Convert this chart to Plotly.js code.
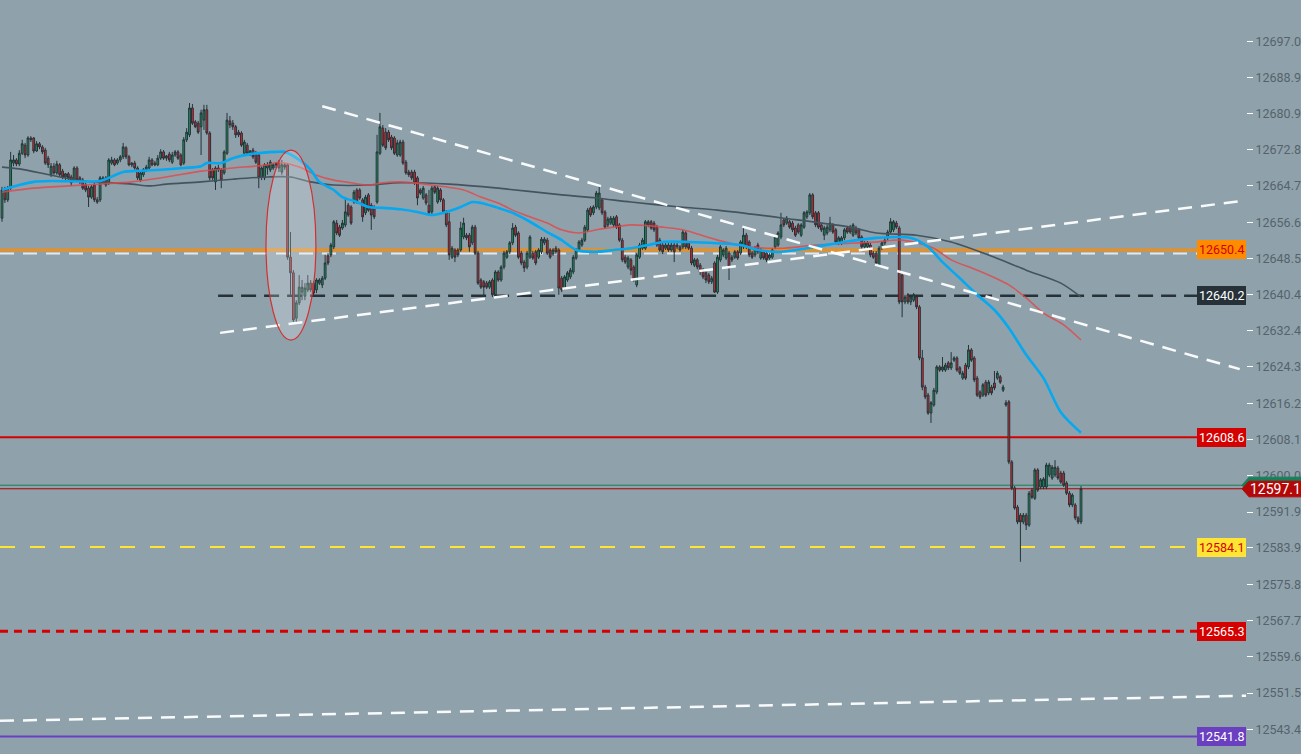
<!DOCTYPE html>
<html><head><meta charset="utf-8">
<script src="https://cdn.plot.ly/plotly-3.0.1.min.js"></script>
<style>html,body{margin:0;padding:0;background:#8fa2ac;}#chart{width:1301px;height:754px;}</style>
</head><body><div id="chart"></div>
<script>
// ---- candle data (price) ----
const openP = [
12657.5,12663.8,12661.6,12664.2,12669.8,12670.5,12669.6,12672.0,12673.8,12671.6,12675.4,12675.4,12672.5,12674.1,12673.4,12672.7,12670.9,12667.2,12669.1,12667.6,12669.4,12668.0,12666.7,12667.4,12666.7,12666.0,12668.7,12666.5,12666.0,12664.9,12664.2,12662.2,12664.9,12661.6,12661.6,12665.6,12666.5,12665.4,12669.8,12670.5,12669.8,12670.5,12671.2,12673.2,12671.2,12669.4,12669.8,12668.7,12666.0,12667.2,12668.3,12668.7,12670.5,12669.8,12669.4,12670.9,12672.3,12670.9,12671.8,12670.0,12671.6,12672.3,12671.6,12669.8,12675.0,12676.1,12682.1,12679.0,12678.7,12677.9,12679.4,12681.7,12676.5,12668.3,12665.6,12668.7,12668.3,12667.6,12672.0,12679.2,12678.7,12677.9,12676.7,12676.5,12672.0,12673.8,12672.0,12672.7,12672.0,12671.6,12666.7,12666.5,12668.7,12668.3,12668.7,12669.4,12670.0,12667.8,12669.4,
12669.4,12648.8,12645.3,12635.2,12638.6,12641.0,12640.1,12641.5,12643.0,12643.0,12641.5,12643.0,12642.6,12644.1,12649.1,12649.3,12651.1,12656.4,12655.5,12655.3,12656.0,12660.4,12660.0,12661.1,12663.8,12663.8,12661.6,12658.7,12662.7,12660.4,12659.8,12661.1,12672.0,12677.6,12676.7,12676.7,12675.6,12675.4,12671.6,12671.6,12674.5,12670.0,12667.8,12667.8,12667.8,12666.5,12663.8,12662.0,12662.7,12660.4,12658.9,12664.5,12661.1,12663.8,12661.6,12658.9,12656.7,12648.8,12650.4,12650.4,12650.4,12653.3,12653.7,12653.7,12652.0,12655.5,12649.7,12643.7,12643.3,12643.0,12642.1,12643.7,12640.4,12645.5,12643.7,12646.6,12648.8,12650.0,12652.0,12655.5,12654.2,12649.7,12647.7,12646.6,12648.8,12649.7,12650.0,12648.8,
12650.0,12652.0,12652.6,12650.4,12649.5,12650.8,12650.4,12644.1,12641.9,12643.7,12644.4,12645.5,12648.6,12650.4,12651.5,12652.6,12654.9,12659.8,12658.7,12660.0,12659.8,12661.6,12658.9,12656.0,12656.4,12656.0,12657.8,12656.0,12652.6,12648.8,12646.6,12648.2,12646.6,12642.6,12648.8,12650.8,12650.8,12656.0,12656.7,12656.4,12655.5,12652.6,12651.5,12650.8,12651.5,12650.4,12651.5,12651.1,12651.1,12651.1,12654.2,12652.0,12650.8,12647.0,12648.2,12647.0,12645.9,12645.3,12644.8,12643.3,12647.5,12641.0,12648.2,12649.3,12648.6,12649.7,12648.8,12648.8,12650.0,12649.7,12651.1,12653.7,12652.2,12649.7,12649.3,12651.5,12648.6,12650.0,12649.7,12648.6,12648.8,12651.1,12651.5,12653.3,12657.1,12656.4,12656.7,12656.4,12655.3,12656.0,12653.7,12655.5,12657.8,12658.7,
12662.7,12658.7,12658.7,12656.0,12653.7,12654.2,12654.9,12656.0,12654.9,12652.0,12652.0,12653.1,12655.3,12655.5,12653.7,12655.3,12654.9,12653.3,12651.1,12651.1,12651.5,12649.7,12649.7,12647.0,12650.8,12652.0,12653.1,12654.4,12654.9,12656.4,12655.3,12644.8,12638.8,12640.4,12638.8,12639.2,12639.9,12637.7,12626.3,12619.8,12618.0,12614.0,12615.8,12618.7,12624.3,12623.6,12623.6,12625.2,12624.1,12625.8,12626.3,12624.1,12621.8,12624.7,12624.3,12628.1,12626.3,12621.8,12618.7,12618.0,12620.9,12618.5,12619.8,12620.7,12621.8,12622.1,12619.1,12616.3,12616.5,12603.1,12597.3,12593.0,12591.2,12589.7,12591.2,12589.0,12596.8,12595.0,12601.3,12597.5,12597.5,12597.5,12600.2,12599.5,12600.2,12601.7,12600.6,12600.6,12598.4,12596.1,12593.5,12593.5,12590.6,12589.7
];
const highP = [
12664.5,12664.5,12664.7,12672.3,12671.6,12670.9,12672.7,12675.0,12674.3,12675.8,12675.8,12675.6,12674.7,12674.5,12673.8,12673.2,12671.4,12669.8,12669.8,12670.3,12669.8,12668.5,12667.6,12667.8,12667.2,12669.1,12669.1,12666.9,12666.5,12665.4,12664.7,12664.9,12665.4,12662.2,12666.9,12666.9,12666.9,12670.9,12671.2,12670.9,12670.9,12671.6,12674.3,12673.6,12671.6,12670.0,12670.3,12669.1,12668.0,12668.7,12669.4,12671.2,12670.9,12670.3,12671.6,12672.9,12672.7,12671.6,12672.3,12672.3,12672.7,12672.7,12672.0,12675.6,12677.6,12683.2,12683.0,12679.4,12679.2,12681.7,12682.8,12682.8,12676.9,12668.7,12669.1,12669.4,12668.7,12672.7,12681.0,12680.3,12679.4,12678.3,12677.2,12676.9,12675.0,12674.3,12672.7,12673.2,12672.5,12672.0,12669.1,12669.8,12670.0,12670.5,12669.8,12670.0,12670.5,12670.5,12669.8,
12669.8,12654.4,12645.9,12639.2,12644.8,12643.7,12643.0,12644.8,12643.7,12643.5,12644.1,12644.1,12644.6,12649.3,12649.7,12652.0,12657.1,12657.1,12656.0,12657.1,12662.2,12660.9,12660.4,12663.8,12664.2,12664.2,12662.0,12662.7,12663.1,12660.9,12660.4,12676.1,12681.0,12678.3,12677.6,12677.2,12676.1,12675.8,12675.0,12675.0,12675.0,12670.5,12668.3,12668.3,12668.3,12666.9,12664.2,12664.7,12663.1,12663.8,12664.7,12664.9,12664.7,12664.2,12662.0,12659.3,12658.7,12651.3,12650.8,12650.8,12656.7,12657.6,12654.2,12654.2,12656.0,12656.0,12650.2,12644.1,12643.7,12643.5,12643.7,12644.1,12645.9,12645.9,12647.0,12650.2,12650.4,12652.4,12656.4,12656.0,12654.6,12650.2,12648.2,12650.2,12653.7,12650.2,12650.4,12650.8,
12653.3,12653.3,12653.1,12650.8,12650.8,12651.3,12650.8,12644.6,12644.8,12645.7,12646.4,12649.3,12650.8,12652.6,12653.1,12656.0,12659.8,12660.2,12660.4,12663.6,12664.5,12662.0,12659.3,12657.8,12658.0,12658.0,12658.2,12656.4,12653.1,12649.3,12649.1,12648.6,12647.0,12649.7,12652.0,12653.1,12657.1,12657.1,12657.1,12656.9,12656.0,12653.1,12652.0,12652.0,12652.0,12652.0,12652.0,12652.0,12651.5,12654.9,12654.6,12652.4,12651.3,12648.6,12648.6,12647.5,12646.4,12645.7,12645.3,12644.6,12647.9,12649.3,12651.5,12650.8,12651.3,12650.2,12649.3,12650.4,12650.4,12652.6,12655.5,12654.2,12652.6,12650.2,12651.3,12652.0,12650.8,12650.4,12650.2,12649.7,12650.8,12653.7,12654.6,12658.7,12657.5,12658.0,12657.1,12656.9,12655.8,12656.4,12656.4,12659.1,12659.3,12663.1,
12663.1,12659.1,12659.1,12656.4,12655.8,12656.0,12657.8,12656.4,12655.3,12653.5,12653.5,12655.3,12655.8,12656.0,12656.4,12655.8,12655.3,12653.7,12652.4,12652.4,12652.0,12650.2,12650.2,12651.3,12652.4,12653.1,12654.9,12657.5,12657.1,12656.9,12655.8,12645.3,12640.4,12640.8,12640.4,12640.8,12640.4,12638.1,12628.1,12620.3,12618.5,12616.7,12619.6,12624.7,12624.7,12626.5,12625.2,12625.6,12627.6,12626.7,12626.7,12624.5,12623.4,12625.2,12629.2,12628.5,12626.7,12622.3,12619.1,12620.7,12621.4,12621.4,12620.3,12623.4,12623.4,12622.5,12620.3,12616.9,12616.9,12603.5,12597.7,12593.5,12591.7,12591.7,12591.7,12596.6,12597.3,12601.7,12601.7,12599.5,12599.7,12602.9,12602.9,12602.4,12603.5,12602.2,12601.1,12601.1,12598.8,12596.6,12596.1,12593.9,12591.0,12597.7
];
const lowP = [
12656.7,12660.9,12661.1,12663.8,12669.1,12669.1,12669.1,12671.6,12670.9,12671.2,12674.5,12672.0,12672.3,12672.9,12671.8,12669.4,12668.7,12666.7,12667.2,12667.2,12666.7,12666.2,12666.0,12666.0,12664.7,12665.6,12665.6,12665.1,12663.8,12663.3,12660.0,12661.8,12661.1,12660.7,12661.1,12665.1,12664.5,12664.9,12669.4,12669.1,12669.4,12670.0,12670.7,12670.7,12669.1,12668.9,12668.3,12666.0,12665.6,12666.7,12667.8,12668.3,12669.1,12669.1,12669.1,12670.5,12670.5,12670.3,12670.0,12669.6,12671.2,12670.5,12669.1,12669.4,12674.5,12675.6,12678.3,12677.6,12676.3,12671.6,12677.2,12676.1,12666.0,12666.0,12663.8,12667.8,12664.2,12667.2,12671.6,12677.6,12677.2,12675.4,12675.6,12673.4,12671.6,12671.6,12671.4,12670.7,12669.6,12664.2,12666.0,12666.0,12667.2,12667.8,12668.3,12668.7,12667.8,12667.2,12668.3,
12648.2,12640.4,12634.3,12634.3,12638.1,12639.2,12639.2,12641.0,12641.0,12640.1,12640.8,12642.6,12641.9,12643.7,12647.0,12648.8,12650.6,12653.7,12653.3,12654.9,12655.5,12657.8,12656.0,12660.7,12660.7,12661.6,12656.7,12658.2,12658.9,12654.9,12657.3,12660.7,12671.6,12673.4,12672.7,12674.5,12672.7,12671.6,12671.2,12671.2,12669.4,12667.2,12666.7,12666.0,12664.9,12660.4,12662.7,12661.6,12660.4,12658.2,12658.4,12662.9,12660.7,12661.1,12658.4,12655.5,12648.2,12648.4,12647.7,12648.8,12650.0,12652.8,12652.6,12650.0,12651.5,12649.3,12642.6,12641.7,12639.9,12641.7,12641.7,12639.9,12639.9,12643.3,12643.3,12646.1,12648.4,12649.5,12651.5,12653.3,12648.4,12647.0,12645.5,12646.1,12648.4,12648.2,12647.0,12648.4,
12649.5,12651.5,12649.3,12648.4,12649.1,12649.5,12640.4,12641.0,12641.5,12643.3,12643.9,12645.0,12648.2,12650.0,12651.1,12652.2,12654.4,12657.8,12658.2,12659.5,12659.3,12658.2,12655.1,12655.5,12656.0,12655.5,12655.1,12652.2,12647.7,12647.3,12646.1,12644.8,12643.3,12642.1,12648.4,12650.4,12650.4,12655.5,12654.9,12654.4,12651.1,12650.0,12649.5,12650.4,12650.0,12650.0,12647.7,12650.6,12650.0,12650.6,12650.6,12650.4,12647.0,12646.6,12646.1,12644.8,12643.9,12643.0,12642.8,12642.8,12640.8,12640.6,12647.7,12648.8,12648.2,12643.7,12647.7,12648.4,12648.2,12649.3,12650.6,12650.6,12648.8,12648.4,12648.8,12649.5,12648.2,12648.2,12647.7,12648.2,12648.4,12650.6,12651.1,12652.8,12655.5,12656.0,12655.1,12654.4,12653.3,12654.0,12653.3,12655.1,12657.3,12658.2,
12657.3,12655.5,12655.1,12654.4,12652.6,12653.7,12654.4,12654.0,12651.7,12651.5,12651.5,12652.6,12654.0,12654.0,12653.3,12653.7,12652.6,12650.6,12650.6,12650.6,12648.8,12648.4,12647.0,12646.6,12650.4,12651.5,12652.6,12654.0,12654.4,12655.1,12638.3,12635.4,12638.3,12638.3,12638.1,12638.8,12637.2,12625.8,12619.1,12617.1,12613.6,12611.8,12615.4,12618.2,12623.2,12623.2,12623.2,12623.6,12623.6,12625.4,12623.2,12622.5,12621.4,12621.4,12623.8,12625.4,12620.9,12617.6,12617.1,12617.6,12617.6,12618.0,12618.0,12619.1,12621.4,12620.5,12618.7,12615.4,12602.6,12596.8,12592.4,12589.2,12580.8,12589.2,12587.9,12588.6,12594.8,12594.6,12596.4,12597.0,12597.0,12597.0,12599.7,12599.1,12599.7,12599.1,12598.2,12597.5,12595.7,12593.0,12593.0,12590.1,12589.2,12589.2
];
const closeP = [
12663.8,12661.6,12664.2,12670.5,12670.5,12669.6,12672.0,12674.1,12671.6,12675.4,12675.0,12672.5,12674.1,12673.4,12672.3,12669.8,12669.4,12669.1,12667.6,12669.6,12667.2,12666.7,12667.4,12666.5,12665.4,12668.7,12666.0,12665.6,12664.2,12663.8,12662.2,12664.5,12661.6,12661.1,12666.5,12666.5,12664.9,12670.5,12670.5,12669.4,12670.5,12671.2,12673.4,12671.2,12669.4,12669.8,12668.7,12666.5,12667.6,12668.3,12668.9,12670.5,12669.4,12669.4,12670.9,12672.3,12670.9,12671.4,12670.5,12671.6,12672.3,12670.9,12669.4,12675.0,12676.7,12682.1,12678.7,12677.9,12676.7,12681.0,12681.7,12676.5,12666.5,12666.5,12668.7,12668.3,12666.0,12672.3,12679.4,12678.3,12677.9,12676.1,12676.1,12673.8,12674.5,12672.0,12672.5,12671.2,12670.0,12666.5,12668.7,12669.4,12669.4,12670.0,12669.4,12669.6,12668.7,12669.4,12668.9,
12648.8,12645.3,12634.8,12638.6,12642.1,12642.1,12641.9,12643.0,12641.5,12640.8,12643.7,12643.7,12644.1,12647.5,12647.5,12651.5,12656.7,12654.2,12653.7,12656.4,12658.9,12658.2,12656.4,12663.3,12661.1,12662.0,12657.8,12662.2,12659.3,12658.2,12657.8,12672.3,12677.9,12673.8,12673.2,12675.0,12673.2,12672.0,12674.3,12674.5,12669.8,12667.6,12667.2,12666.5,12665.4,12662.0,12663.1,12664.2,12660.9,12658.7,12664.2,12663.3,12664.2,12661.6,12658.9,12656.0,12649.3,12650.8,12648.8,12649.3,12655.3,12656.4,12653.1,12651.1,12655.5,12649.7,12643.0,12642.1,12642.1,12642.1,12643.3,12640.4,12645.5,12643.7,12646.6,12649.7,12650.0,12652.0,12655.3,12653.7,12648.8,12647.5,12646.4,12649.7,12653.3,12648.6,12647.5,12650.4,
12652.8,12652.8,12649.7,12648.8,12650.4,12650.0,12641.9,12641.5,12644.4,12645.3,12645.9,12648.8,12650.4,12652.2,12652.6,12655.5,12659.3,12658.2,12660.0,12663.1,12663.1,12658.7,12655.5,12657.3,12657.5,12657.5,12655.5,12652.6,12648.2,12647.7,12648.6,12645.9,12643.7,12649.3,12651.5,12652.6,12656.7,12656.7,12655.3,12654.9,12651.5,12650.4,12650.0,12651.5,12650.4,12651.5,12650.0,12651.5,12650.4,12654.4,12651.1,12650.8,12647.5,12648.2,12646.6,12645.5,12644.4,12643.7,12643.3,12644.1,12641.0,12648.8,12651.1,12650.4,12650.8,12646.6,12648.2,12650.0,12648.6,12652.2,12653.7,12651.1,12649.3,12648.8,12650.8,12650.0,12650.4,12648.6,12648.2,12649.3,12650.4,12653.3,12654.2,12656.0,12656.0,12657.5,12655.5,12654.9,12653.7,12654.4,12656.0,12658.7,12658.9,12662.7,
12657.8,12656.0,12655.5,12654.9,12655.3,12655.5,12656.4,12654.4,12652.2,12653.1,12653.1,12654.9,12654.4,12654.4,12656.0,12654.2,12653.1,12651.1,12652.0,12652.0,12649.3,12648.8,12647.5,12650.8,12652.0,12652.6,12654.4,12656.7,12656.7,12655.5,12638.8,12638.8,12639.9,12638.8,12639.9,12640.4,12637.7,12626.3,12619.8,12617.6,12614.0,12616.3,12619.1,12624.3,12623.6,12624.3,12624.7,12624.1,12625.2,12626.3,12623.6,12622.9,12622.9,12621.8,12628.1,12625.8,12621.4,12618.0,12617.6,12620.3,12618.0,12620.9,12618.5,12619.6,12622.9,12620.9,12619.8,12615.8,12603.1,12597.3,12592.8,12589.7,12589.7,12591.2,12589.0,12596.1,12595.2,12601.3,12596.8,12599.1,12599.3,12602.4,12602.4,12601.9,12601.9,12599.5,12598.6,12597.9,12596.1,12593.5,12595.7,12590.6,12589.7,12597.1
];

// ---- moving averages (bar index, price) ----
const fastMaIdx = [0,6,11,17,34,37,42,48,55,63,69,71,76,80,86,95,98,103,107,110,115,118,123,127,132,138,144,149,153,159,163,166,172,177,183,189,194,199,206,212,218,224,229,238,248,256,262,270,279,292,303,315,321,326,332,338,344,349,355,361,367,374];
const fastMa = [12663.8,12664.9,12665.6,12665.8,12665.8,12666.5,12667.8,12668.1,12668.3,12668.7,12669.1,12669.8,12669.8,12670.9,12671.8,12672.3,12672.3,12670.5,12668.3,12665.6,12663.8,12662.2,12661.1,12660.0,12659.8,12659.5,12658.9,12658.2,12658.7,12660.0,12661.1,12660.9,12659.8,12658.7,12656.7,12654.4,12652.6,12650.4,12650.0,12650.4,12650.8,12651.5,12652.2,12652.2,12651.9,12651.5,12650.4,12650.0,12650.8,12652.2,12653.1,12653.1,12651.1,12647.7,12644.1,12640.4,12637.0,12633.0,12627.0,12621.8,12614.2,12609.6];
const midMaIdx = [0,11,23,34,45,57,69,80,92,96,103,109,115,121,127,132,138,149,160,166,172,177,183,189,194,200,206,212,218,229,236,248,259,271,282,294,303,312,323,329,338,349,355,361,368,374];
const midMa = [12663.3,12664.2,12664.7,12665.1,12665.6,12666.7,12668.0,12668.7,12669.4,12670.0,12668.9,12667.1,12666.0,12665.4,12664.9,12665.4,12665.6,12664.9,12663.8,12662.2,12660.9,12659.3,12657.8,12656.4,12654.9,12654.2,12654.9,12655.5,12656.0,12655.5,12654.9,12652.6,12651.1,12650.8,12651.5,12651.9,12652.2,12652.6,12650.8,12648.2,12645.9,12642.6,12639.7,12636.3,12633.7,12630.3];
const slowMaIdx = [0,6,17,28,45,51,57,69,80,92,100,107,115,127,138,155,172,194,206,218,235,248,271,294,303,317,329,344,355,367,374];
const slowMa = [12668.9,12668.5,12667.1,12665.8,12665.1,12664.7,12665.1,12665.6,12666.2,12666.7,12666.7,12665.6,12664.9,12664.9,12665.4,12665.1,12664.2,12662.7,12662.0,12661.1,12660.0,12659.3,12657.5,12655.5,12654.2,12653.7,12652.2,12648.8,12645.9,12643.0,12639.9];

// ---- price levels and drawings ----
const levelPrices = [12650.4, 12640.2, 12608.6, 12584.1, 12565.3, 12541.8];
const levelLabels = ["12650.4", "12640.2", "12608.6", "12584.1", "12565.3", "12541.8"];
const guidePrice = 12649.6;
const lastPrice = 12597.1;
const askPrice = 12597.9;
const lastLabel = "12597.1";
const trendStartIdx = [111, 75.6, -0.7];
const trendStartPrice = [12682.5, 12631.9, 12545.3];
const trendEndIdx = [429, 429, 431.2];
const trendEndPrice = [12623.8, 12661.3, 12550.9];
const supportStartIdx = 74.9;
const ellipseIdx = [91.5, 108.8];
const ellipsePrice = [12630.3, 12672.7];
const tickVals = [12697.0,12688.9,12680.9,12672.8,12664.7,12656.6,12648.5,12640.4,12632.4,12624.3,12616.2,12608.1,12600.0,12591.9,12583.9,12575.8,12567.7,12559.6,12551.5,12543.4];

const xIdx = closeP.map((_, i) => i);
const N = closeP.length;
const PLOT_W = 1246;
const pxPerBar = 1079 / (N - 1);
const xr0 = -2 / pxPerBar;
const xr1 = xr0 + PLOT_W / pxPerBar;

const traces = [
  {type:'scatter', mode:'lines', x:slowMaIdx, y:slowMa, line:{color:'#44545e', width:1.6, shape:'spline', smoothing:0.8}, hoverinfo:'skip'},
  {type:'scatter', mode:'lines', x:midMaIdx, y:midMa, line:{color:'rgba(226,70,72,0.8)', width:1.6, shape:'spline', smoothing:0.8}, hoverinfo:'skip'},
  {type:'scatter', mode:'lines', x:fastMaIdx, y:fastMa, line:{color:'#06a8f0', width:2.6, shape:'spline', smoothing:0.8}, hoverinfo:'skip'},
  {type:'candlestick', x:xIdx, open:openP, high:highP, low:lowP, close:closeP,
   increasing:{fillcolor:'#18965c', line:{color:'#263238', width:1}},
   decreasing:{fillcolor:'#e3232b', line:{color:'#263238', width:1}},
   whiskerwidth:0, hoverinfo:'skip'}
];

const shapes = [];
const hline = (y, color, width, dash, x0ref) => {
  const s = {type:'line', yref:'y', y0:y, y1:y, line:{color:color, width:width, dash:dash||'solid'}, layer:'below'};
  if (x0ref === undefined) { s.xref = 'paper'; s.x0 = 0; s.x1 = 1; }
  else { s.xref = 'x'; s.x0 = x0ref; s.x1 = xr1; }
  shapes.push(s);
};
hline(guidePrice, 'rgba(235,235,235,0.95)', 2, '14px,9px');
hline(levelPrices[0], '#ff8c00', 2.5);
hline(levelPrices[1], '#263238', 2.5, '15px,8px', supportStartIdx);
hline(levelPrices[2], '#d50000', 2);
hline(askPrice, '#1b7f52', 1);
hline(lastPrice, '#b00000', 1);
hline(levelPrices[3], '#ffe433', 2, '15px,15px');
hline(levelPrices[4], '#d50000', 3, '8px,6px');
hline(levelPrices[5], '#6a3fc0', 2);
for (let k = 0; k < trendStartIdx.length; k++) {
  shapes.push({type:'line', xref:'x', yref:'y', x0:trendStartIdx[k], y0:trendStartPrice[k], x1:trendEndIdx[k], y1:trendEndPrice[k],
    line:{color:'rgba(255,255,255,0.95)', width:2.5, dash:'14px,9px'}, layer:'above'});
}
shapes.push({type:'circle', xref:'x', yref:'y', x0:ellipseIdx[0], x1:ellipseIdx[1], y0:ellipsePrice[0], y1:ellipsePrice[1],
  fillcolor:'rgba(255,255,255,0.22)', line:{color:'#d32f2f', width:1.2}, layer:'above'});
// current price tag
const pxToPaper = p => p / PLOT_W;
const tag = (yTop, yMid, yBot, color) => {
  const a = pxToPaper(1242), b = pxToPaper(1249), c = pxToPaper(1305);
  shapes.push({type:'path', xref:'paper', yref:'y', layer:'above', fillcolor:color, line:{color:color, width:1},
    path:`M ${a},${yMid} L ${b},${yTop} L ${c},${yTop} L ${c},${yBot} L ${b},${yBot} Z`});
};
tag(12599.7, askPrice, 12596.1, '#17805a');
tag(12598.8, lastPrice, 12595.3, '#b40808');

const labelStyles = [
  {bg:'#ff8c00', fg:'#d50000'},
  {bg:'#263238', fg:'#ffffff'},
  {bg:'#d50000', fg:'#ffffff'},
  {bg:'#ffe433', fg:'#d50000'},
  {bg:'#d50000', fg:'#ffffff'},
  {bg:'#6a3fc0', fg:'#ffffff'}
];
const annotations = levelPrices.map((p, k) => ({
  xref:'paper', x:1, xanchor:'right', yref:'y', y:p, yanchor:'middle', showarrow:false,
  text:levelLabels[k], bgcolor:labelStyles[k].bg, bordercolor:labelStyles[k].bg, borderpad:1,
  font:{family:'Roboto, DejaVu Sans, sans-serif', size:12.5, color:labelStyles[k].fg}
}));
annotations.push({xref:'paper', x:pxToPaper(1275), xanchor:'center', yref:'y', y:lastPrice, yanchor:'middle', showarrow:false,
  text:lastLabel, font:{family:'Roboto, DejaVu Sans, sans-serif', size:14, color:'#ffffff'}});

const layout = {
  width:1301, height:754,
  margin:{l:0, r:55, t:0, b:0, pad:0},
  paper_bgcolor:'#8fa2ac', plot_bgcolor:'#8fa2ac',
  showlegend:false,
  boxgap:0.12,
  xaxis:{visible:false, range:[xr0, xr1], rangeslider:{visible:false}, fixedrange:true},
  yaxis:{side:'right', range:[12537.9, 12706.2], tickvals:tickVals, ticktext:tickVals.map(v => v.toFixed(1)),
    ticks:'outside', ticklen:6, tickwidth:1, tickcolor:'#ffffff', showgrid:false, zeroline:false, showline:false,
    tickfont:{family:'Roboto, DejaVu Sans, sans-serif', size:12.5, color:'#56626b'}, fixedrange:true, automargin:false},
  shapes:shapes,
  annotations:annotations
};
Plotly.newPlot('chart', traces, layout, {staticPlot:true, displayModeBar:false});
</script>
</body></html>
